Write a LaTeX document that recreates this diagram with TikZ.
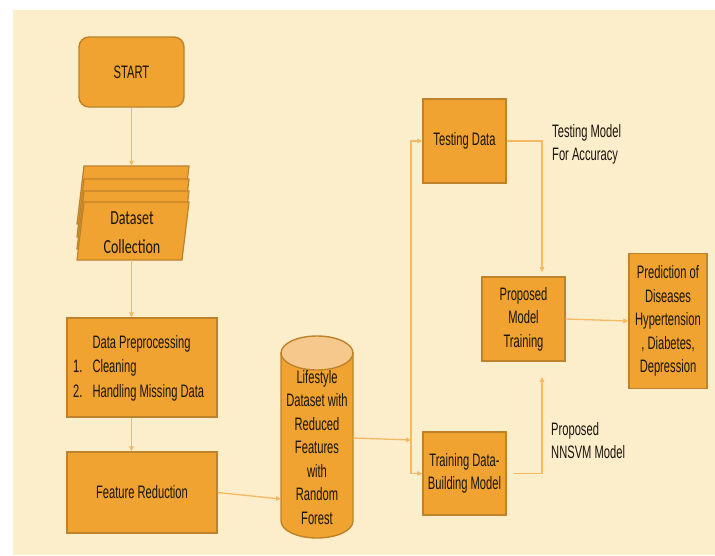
\documentclass[tikz,border=0pt]{standalone}
\usepackage{fontspec}
\setmainfont{Liberation Sans}[FakeStretch=0.62]
\newfontfamily\calfont{Carlito}[FakeStretch=0.7]
\usetikzlibrary{arrows.meta}
\definecolor{bg}{RGB}{252,237,203}
\definecolor{orng}{RGB}{240,163,48}
\definecolor{bord}{RGB}{190,130,42}
\definecolor{lite}{RGB}{247,200,140}
\definecolor{conn}{RGB}{245,185,100}
\definecolor{txt}{RGB}{25,20,10}
\begin{document}
\begin{tikzpicture}[x=1pt,y=-1pt,
  box/.style={draw=bord, fill=orng, line width=1.4pt, inner sep=0pt, text=txt, align=center, font=\fontsize{18}{23.5}\selectfont},
  ghost/.style={inner sep=0pt, text=txt, align=center, font=\fontsize{18}{23.5}\selectfont},
  lnk/.style={draw=conn, line width=1.3pt, -{Triangle[length=5pt,width=4.5pt]}},
  lab/.style={anchor=west, inner sep=0pt, text=txt, align=left, font=\fontsize{18}{23}\selectfont},
  layer/.style={fill=orng, draw=bord, line width=1.2pt}]

\useasboundingbox (0,0) rectangle (715,555);
\fill[white] (0,0) rectangle (715,555);
\fill[bg] (13,10) rectangle (715,555);

% START
\node[box, rounded corners=10pt, minimum width=105pt, minimum height=70pt] (start) at (131.5,72) {START};

% Dataset collection (stacked parallelograms)
\foreach \d in {36,23,11,0} {
  \filldraw[layer] (77,{260-\d}) -- (182,{260-\d}) -- (189,{202-\d}) -- (84,{202-\d}) -- cycle;
}
\node[inner sep=0pt, minimum width=112pt, minimum height=94pt] (ds) at (133,213) {};
\node[inner sep=0pt, text=txt, align=center, font=\calfont\fontsize{20}{29}\selectfont] (dstxt) at (132,233) {Dataset\\Collection};

% Data preprocessing
\node[box, minimum width=150pt, minimum height=99pt] (prep) at (142,367.5) {};
\node[anchor=west, inner sep=0pt, text=txt, font=\fontsize{18}{24.5}\selectfont] (preptxt) at (73,368)
  {\begin{tabular}{@{}l@{\hspace{10pt}}l@{}} & Data Preprocessing\\ 1. & Cleaning\\ 2. & Handling Missing Data\end{tabular}};

% Feature reduction
\node[box, minimum width=150pt, minimum height=81pt] (fr) at (142,492.5) {Feature Reduction};

% Cylinder
\filldraw[fill=orng, draw=bord, line width=1.4pt] (281,353) -- (281,521)
  arc[start angle=180, end angle=360, x radius=36pt, y radius=17pt] -- (353,353) -- cycle;
\filldraw[fill=lite, draw=bord, line width=1.4pt] (317,353) ellipse [x radius=36pt, y radius=17pt];
\node[ghost, minimum width=72pt, minimum height=201pt] (cyl) at (317,447.5)
  {Lifestyle\\Dataset with\\Reduced\\Features\\with\\Random\\Forest};

% Right side boxes
\node[box, minimum width=83pt, minimum height=84pt] (test) at (464.5,141) {Testing Data};
\node[box, minimum width=83pt, minimum height=83pt] (train) at (464.5,473.5) {Training Data-\\Building Model};
\node[box, minimum width=83pt, minimum height=84pt] (prop) at (523.5,319) {Proposed\\Model\\Training};
\node[box, minimum width=78pt, minimum height=135pt] (pred) at (668,321) {Prediction of\\Diseases\\Hypertension\\, Diabetes,\\Depression};

% Labels
\node[lab] (l1) at (552,144.5) {Testing Model\\For Accuracy};
\node[lab] (l2) at (551,441) {Proposed\\NNSVM Model};

% Connectors
\draw[lnk] (start.south) -- (start.south |- ds.north);
\draw[lnk] (start.south |- ds.south) -- (start.south |- prep.north);
\draw[lnk] (start.south |- prep.south) -- (start.south |- fr.north);
\coordinate (cylin) at (281,499);
\draw[lnk] (fr.east) -- (cylin);
\coordinate (busin) at (353,438);
\coordinate (bus) at (411,440);
\draw[lnk] (busin) -- (bus);
\draw[lnk] (bus) |- (test.west);
\draw[lnk] (bus) |- (train.west);
\coordinate (ptop) at (542,272);
\coordinate (pbot) at (542,377);
\draw[lnk] (test.east) -| (ptop);
\draw[lnk] ([xshift=7pt]train.east) -| (pbot);
\draw[lnk] (prop.east) -- (pred.west);
\end{tikzpicture}
\end{document}
